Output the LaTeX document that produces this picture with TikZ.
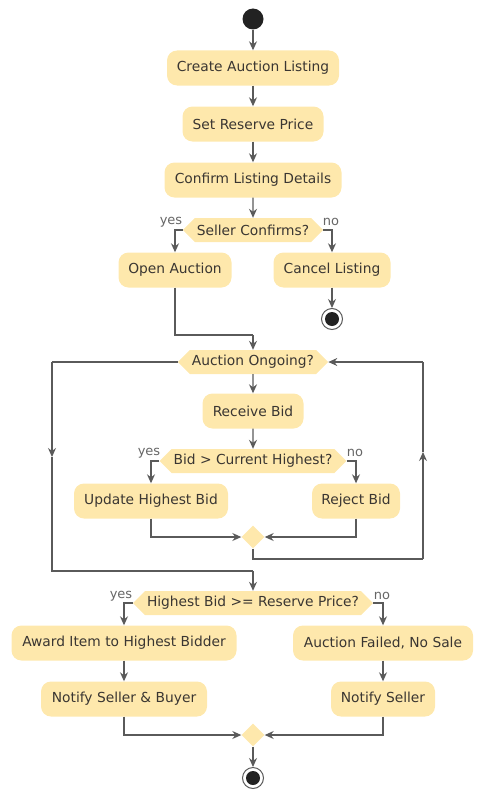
\documentclass[tikz,border=0pt]{standalone}
\usepackage{fontspec}
\setmainfont{DejaVu Sans}
\usetikzlibrary{shapes.geometric,shapes.symbols,arrows.meta}
\definecolor{actfill}{HTML}{FEE8AC}
\definecolor{linec}{HTML}{5A5A5A}
\definecolor{txtc}{HTML}{3A3632}
\definecolor{lblc}{HTML}{666666}
\definecolor{dotc}{HTML}{222222}
\begin{document}
\begin{tikzpicture}[x=1pt,y=-1pt,
  act/.style={rectangle, rounded corners=10pt, fill=actfill, minimum height=35pt, inner sep=0pt, font=\fontsize{13.8}{16}\selectfont, text=txtc},
  dec/.style={signal, signal to=west and east, signal pointer angle=90, fill=actfill, minimum height=24pt, inner xsep=2pt, inner ysep=0pt, font=\fontsize{13.8}{16}\selectfont, text=txtc},
  merge/.style={diamond, fill=actfill, minimum size=23pt, inner sep=0pt},
  startdot/.style={circle, fill=dotc, minimum size=21pt, inner sep=0pt},
  enddot/.style={circle, draw=linec, line width=1pt, fill=white, minimum size=21pt, inner sep=0pt,
    path picture={\fill[dotc] (path picture bounding box.center) circle[radius=7pt];}},
  flow/.style={draw=linec, line width=1.1pt, -{Stealth[length=9pt,width=8pt,inset=3pt]}},
  plain/.style={draw=linec, line width=1.1pt},
  lbl/.style={font=\fontsize{13}{15}\selectfont, text=lblc, inner sep=0pt},
]
\useasboundingbox (0,0) rectangle (484,800);

\node[startdot] (start) at (253,19) {};
\node[act, minimum width=172pt] (a1) at (253,68) {Create Auction Listing};
\node[act, minimum width=141pt] (a2) at (253,124) {Set Reserve Price};
\node[act, minimum width=177pt] (a3) at (253,180) {Confirm Listing Details};
\node[dec, minimum width=137pt] (d1) at (253,230) {Seller Confirms?};
\node[act, minimum width=113pt] (open) at (175,270) {Open Auction};
\node[act, minimum width=117pt] (cancel) at (332,270) {Cancel Listing};
\node[enddot] (end1) at (332,319) {};
\node[dec, minimum width=147pt] (d2) at (253,362) {Auction Ongoing?};
\node[act, minimum width=101pt] (recv) at (253,411) {Receive Bid};
\node[dec, minimum width=183pt] (d4) at (253,461) {Bid > Current Highest?};
\node[act, minimum width=154pt] (upd) at (151,501) {Update Highest Bid};
\node[act, minimum width=88pt] (rej) at (356,501) {Reject Bid};
\node[merge] (m1) at (253,537) {};
\node[dec, minimum width=239pt] (d3) at (253,603) {Highest Bid >= Reserve Price?};
\node[act, minimum width=225pt] (award) at (124,643) {Award Item to Highest Bidder};
\node[act, minimum width=180pt] (failed) at (383,643) {Auction Failed, No Sale};
\node[act, minimum width=166pt] (nsb) at (124,699) {Notify Seller \& Buyer};
\node[act, minimum width=104pt] (ns) at (383,699) {Notify Seller};
\node[merge] (m2) at (253,735) {};
\node[enddot] (end2) at (253,778) {};

\node[lbl] (y1) at (171,222) {yes};
\node[lbl] (n1) at (331,222) {no};
\node[lbl] (y2) at (149,453) {yes};
\node[lbl] (n2) at (355,453) {no};
\node[lbl] (y3) at (121,596) {yes};
\node[lbl] (n3) at (382,596) {no};

\coordinate (j1) at (253,335);
\coordinate (r1) at (253,559);
\coordinate (r2) at (423,559);
\coordinate (r2m) at (423,452);
\coordinate (r3) at (423,362);
\coordinate (l1) at (52,362);
\coordinate (l1m) at (52,457);
\coordinate (l2) at (52,571);
\coordinate (l3) at (253,571);

\draw[flow] (start) -- (a1);
\draw[flow] (a1) -- (a2);
\draw[flow] (a2) -- (a3);
\draw[flow] (a3) -- (d1);
\draw[flow] (d1.west) -| (open.north);
\draw[flow] (d1.east) -| (cancel.north);
\draw[flow] (cancel) -- (end1);
\draw[plain] (open.south) |- (j1);
\draw[flow] (j1) -- (d2.north);
\draw[flow] (d2) -- (recv);
\draw[flow] (recv) -- (d4);
\draw[flow] (d4.west) -| (upd.north);
\draw[flow] (d4.east) -| (rej.north);
\draw[flow] (upd.south) |- (m1.west);
\draw[flow] (rej.south) |- (m1.east);
\draw[plain] (m1.south) -- (r1) -- (r2);
\draw[flow] (r2) -- (r2m);
\draw[plain] (r2m) -- (r3);
\draw[flow] (r3) -- (d2.east);
\draw[plain] (d2.west) -- (l1);
\draw[flow] (l1) -- (l1m);
\draw[plain] (l1m) -- (l2) -- (l3);
\draw[flow] (l3) -- (d3.north);
\draw[flow] (d3.west) -| (award.north);
\draw[flow] (d3.east) -| (failed.north);
\draw[flow] (award) -- (nsb);
\draw[flow] (failed) -- (ns);
\draw[flow] (nsb.south) |- (m2.west);
\draw[flow] (ns.south) |- (m2.east);
\draw[flow] (m2) -- (end2);
\end{tikzpicture}
\end{document}
